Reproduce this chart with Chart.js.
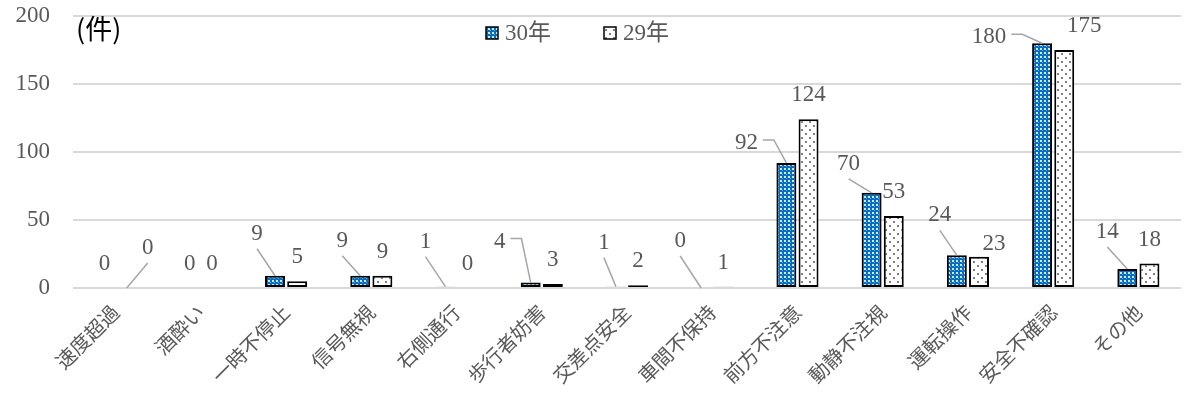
<!DOCTYPE html>
<html>
<head>
<meta charset="utf-8">
<script src="https://cdn.jsdelivr.net/npm/chart.js@4.4.0/dist/chart.umd.min.js"></script>
<style>
  html, body { margin: 0; padding: 0; background: #fff; }
  #wrap { position: relative; width: 1186px; height: 396px; }
</style>
</head>
<body>
<div id="wrap"><canvas id="mainChart" width="1186" height="396"></canvas></div>
<script>
const CATEGORIES = ['速度超過', '酒酔い', '一時不停止', '信号無視', '右側通行', '歩行者妨害', '交差点安全', '車間不保持', '前方不注意', '動静不注視', '運転操作', '安全不確認', 'その他'];
const SERIES = ['30年', '29年'];
const Y30 = [0, 0, 9, 9, 1, 4, 1, 0, 92, 70, 24, 180, 14];
const Y29 = [0, 0, 5, 9, 0, 3, 2, 1, 124, 53, 23, 175, 18];
const Y_TICKS = [0, 50, 100, 150, 200];
const UNIT = '(件)';

// label nudges from the outside-end spot: [dx, dy, leader type]
const SHIFT30 = [null, null, [-18, -18, 'v'], [-18, -11, 'v'], [-20, -21, 'v'], [-31, -17, 'h'], [-12, -20, 'v'], [-21, -23, 'v'], [-40, 4, 'h'], [-23, -5, 'v'], [-17, -16, 'v'], [-53, 18, 'h'], [-20, -13, 'v']];
const SHIFT29 = [[21, -16, 'v'], null, null, null, null, null, null, null, null, null, [15, 11, null], [20, 0, null], null];

const GRAY = '#595959';
const SERIF = '"Liberation Serif", "Noto Sans CJK JP", serif';

function bluePattern() {
    const c = document.createElement('canvas');
    c.width = 4; c.height = 4;
    const g = c.getContext('2d');
    g.fillStyle = '#0070C0'; g.fillRect(0, 0, 4, 4);
    g.fillStyle = '#d4e6f6'; g.fillRect(0, 0, 2, 2);
    g.fillStyle = '#5fa0d8'; g.fillRect(2, 2, 1, 1);
    return g.createPattern(c, 'repeat');
}

function dotPattern() {
    const c = document.createElement('canvas');
    c.width = 8; c.height = 8;
    const g = c.getContext('2d');
    g.fillStyle = '#ffffff'; g.fillRect(0, 0, 8, 8);
    g.fillStyle = '#808080';
    g.fillRect(1, 1, 2, 2);
    g.fillRect(5, 5, 2, 2);
    return g.createPattern(c, 'repeat');
}

const FILLS = [bluePattern(), dotPattern()];

const labelPlugin = {
    id: 'barLabels',
    afterDatasetsDraw(chart) {
        const ctx = chart.ctx;
        const shifts = [SHIFT30, SHIFT29];
        ctx.save();
        ctx.font = '23px ' + SERIF;
        ctx.textAlign = 'center';
        ctx.textBaseline = 'middle';
        chart.data.datasets.forEach((ds, d) => {
            chart.getDatasetMeta(d).data.forEach((bar, i) => {
                const s = shifts[d][i];
                const text = String(ds.data[i]);
                let x = bar.x, y = bar.y - 25;
                if (s) { x += s[0]; y += s[1]; }
                if (s && s[2]) {
                    ctx.strokeStyle = '#a6a6a6';
                    ctx.lineWidth = 1.5;
                    ctx.beginPath();
                    if (s[2] === 'v') {
                        ctx.moveTo(x, y + 16);
                    } else {
                        const w = ctx.measureText(text).width;
                        ctx.moveTo(x + w / 2 + 5, y - 2);
                        ctx.lineTo(x + w / 2 + 16, y - 2);
                    }
                    ctx.lineTo(bar.x, bar.y);
                    ctx.stroke();
                }
                ctx.fillStyle = GRAY;
                ctx.fillText(text, x, y + 1);
            });
        });
        ctx.restore();
    }
};

const legendPlugin = {
    id: 'topLegend',
    afterDraw(chart) {
        const ctx = chart.ctx;
        const xs = [486, 604];
        ctx.save();
        ctx.font = '23px ' + SERIF;
        ctx.textBaseline = 'middle';
        chart.data.datasets.forEach((ds, d) => {
            const x = xs[d], y = 33;
            ctx.fillStyle = ds.backgroundColor;
            ctx.fillRect(x, y - 6, 12, 12);
            ctx.strokeStyle = '#000';
            ctx.lineWidth = 1.5;
            ctx.strokeRect(x, y - 6, 12, 12);
            ctx.fillStyle = GRAY;
            ctx.fillText(ds.label, x + 19, y + 1);
        });
        ctx.font = '27px "Noto Sans CJK JP", sans-serif';
        ctx.fillStyle = '#000';
        ctx.fillText(UNIT, 76, 29);
        ctx.restore();
    }
};

function initChart() {
    const ctx = document.getElementById('mainChart').getContext('2d');
    new Chart(ctx, {
        type: 'bar',
        data: {
            labels: CATEGORIES,
            datasets: [
                { label: SERIES[0], data: Y30, backgroundColor: FILLS[0], borderColor: '#000', borderWidth: 2, borderSkipped: false },
                { label: SERIES[1], data: Y29, backgroundColor: FILLS[1], borderColor: '#000', borderWidth: 2, borderSkipped: false }
            ]
        },
        options: {
            responsive: false,
            animation: false,
            categoryPercentage: 0.52,
            barPercentage: 0.9,
            layout: { padding: { left: 5, right: 5, top: 16, bottom: 0 } },
            plugins: { legend: { display: false }, tooltip: { enabled: false } },
            scales: {
                x: {
                    grid: { display: false },
                    border: { display: false },
                    ticks: { maxRotation: 45, minRotation: 45, color: GRAY, padding: 4, font: { family: '"Noto Sans CJK JP"', size: 20 } },
                    afterFit(s) { s.height = 108; s.paddingLeft = 0; s.paddingRight = 0; }
                },
                y: {
                    min: 0, max: 200,
                    afterBuildTicks(s) { s.ticks = Y_TICKS.map(v => ({ value: v })); },
                    grid: { color: '#d9d9d9', lineWidth: 2, drawTicks: false },
                    border: { display: false },
                    ticks: { color: GRAY, padding: 23, font: { family: '"Liberation Serif"', size: 23 } },
                    afterFit(s) { s.width = 68; s.paddingTop = 0; s.paddingBottom = 0; }
                }
            }
        },
        plugins: [labelPlugin, legendPlugin]
    });
}

initChart();
</script>
</body>
</html>
